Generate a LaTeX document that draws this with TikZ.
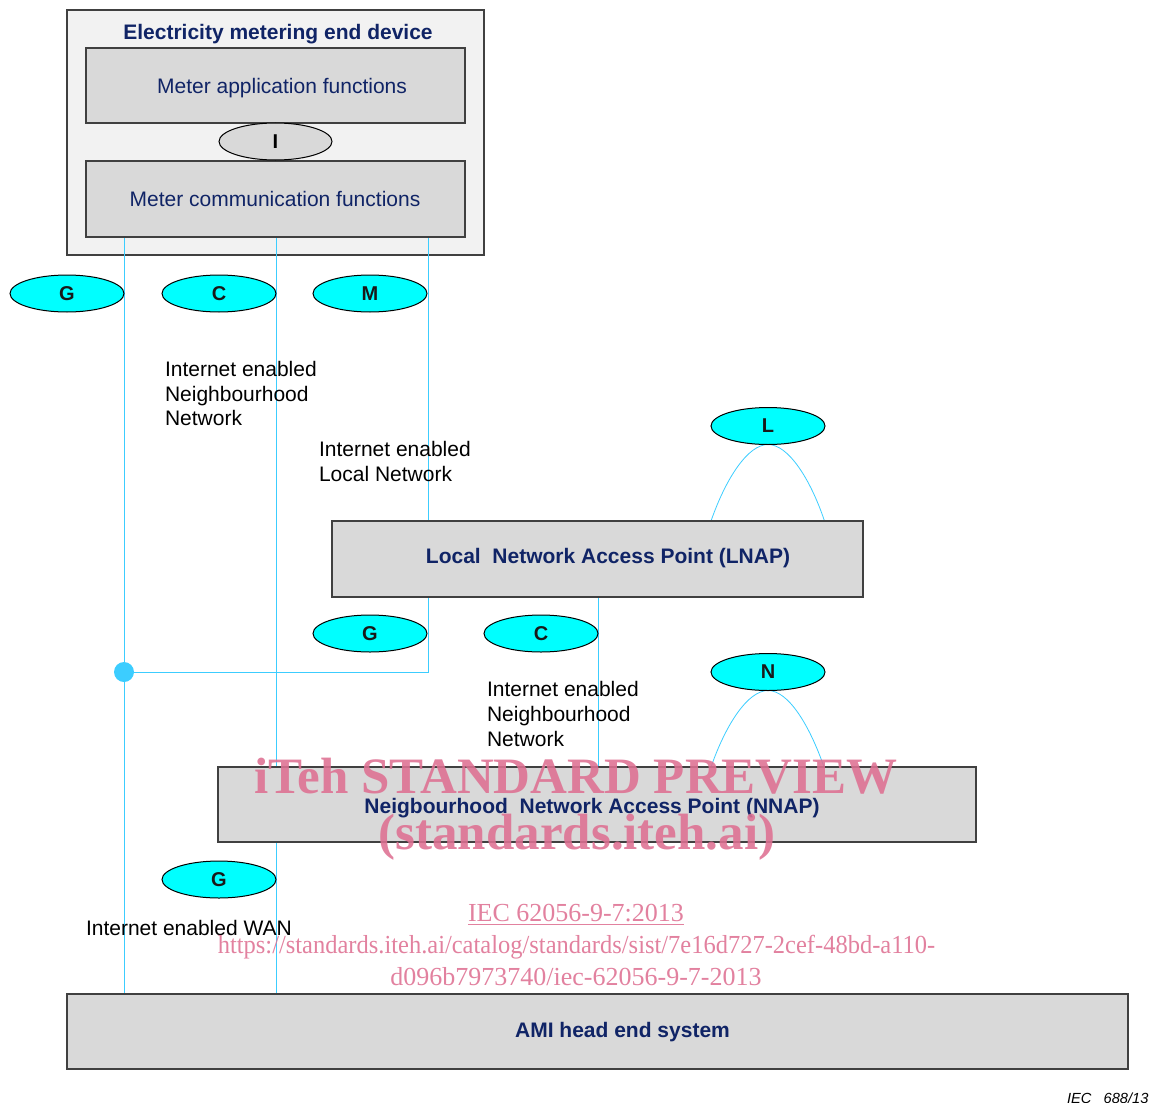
\documentclass[tikz,border=0pt]{standalone}
\usepackage{fontspec}
\setmainfont{Liberation Sans}
\newfontfamily\wmfont{Liberation Serif}
\usetikzlibrary{fit,shapes.geometric}

\definecolor{navy}{RGB}{16,36,102}
\definecolor{wirecol}{RGB}{60,205,255}
\definecolor{ifacefill}{RGB}{0,255,255}
\definecolor{boxgray}{RGB}{217,217,217}
\definecolor{panelgray}{RGB}{242,242,242}
\definecolor{edgegray}{RGB}{64,64,64}
\definecolor{wmpink}{RGB}{222,112,146}

\pgfdeclarelayer{bg}
\pgfsetlayers{bg,main}

\begin{document}
\begin{tikzpicture}[x=0.75pt,y=-0.75pt,
  every node/.style={inner sep=0pt,outer sep=0pt},
  plain/.style={font=\fontsize{15.75pt}{18.4pt}\selectfont,text=black},
  title/.style={font=\bfseries\fontsize{15.75pt}{18.4pt}\selectfont,text=navy},
  subtitle/.style={font=\fontsize{15.75pt}{18.4pt}\selectfont,text=navy},
  box/.style={draw=edgegray,line width=1pt,fill=boxgray,inner sep=0pt},
  panelbox/.style={draw=edgegray,line width=1pt,fill=panelgray,inner sep=0pt},
  iface/.style={ellipse,draw=black,line width=0.75pt,fill=ifacefill,
    minimum width=114*0.75pt,minimum height=37*0.75pt,
    font=\bfseries\fontsize{15pt}{18pt}\selectfont,text=black!90},
  wire/.style={draw=wirecol,line width=0.6pt},
  wmbig/.style={font=\wmfont\bfseries\fontsize{38.25pt}{40pt}\selectfont,text=wmpink,text opacity=0.88},
  wmsmall/.style={font=\wmfont\fontsize{19.5pt}{22pt}\selectfont,text=wmpink,text opacity=0.88}]

\useasboundingbox (0,0) rectangle (1155,1102);

% corner points of the boxes
\coordinate (devA) at (67,10);   \coordinate (devB) at (484,255);
\coordinate (appA) at (86,48);   \coordinate (appB) at (465,123);
\coordinate (comA) at (86,161);  \coordinate (comB) at (465,237);
\coordinate (lnA) at (332,521);  \coordinate (lnB) at (863,597);
\coordinate (nnA) at (218,767);  \coordinate (nnB) at (976,842);
\coordinate (amA) at (67,994);   \coordinate (amB) at (1128,1069);

% x positions of the vertical links
\coordinate (xg) at (124,0);
\coordinate (xc) at (276,0);
\coordinate (xm) at (428,0);
\coordinate (xn) at (598,0);

\begin{pgfonlayer}{bg}
  \node[panelbox,fit=(devA)(devB)] (device) {};
\end{pgfonlayer}

% end device contents
\node[title,anchor=base] (devtitle) at (278,39.6) {Electricity metering end device};
\node[box,fit=(appA)(appB)] (app) {};
\node[subtitle,anchor=base] (apptext) at (282,93.6) {Meter application functions};
\node[box,fit=(comA)(comB)] (comm) {};
\node[subtitle,anchor=base] (commtext) at (275,206.6) {Meter communication functions};
\node[ellipse,draw=black,line width=0.75pt,fill=boxgray,
      minimum width=113*0.75pt,minimum height=37*0.75pt,
      font=\bfseries\fontsize{15pt}{18pt}\selectfont] (ifI) at (275.5,141.5) {I};

% access points and head end
\node[box,fit=(lnA)(lnB)] (lnap) {};
\node[title,anchor=base] (lnaptext) at (608,563.6) {Local\ \ Network Access Point (LNAP)};
\node[box,fit=(nnA)(nnB)] (nnap) {};
\node[title,anchor=base] (nnaptext) at (592,813.6) {Neigbourhood\ \ Network Access Point (NNAP)};
\node[box,fit=(amA)(amB)] (ami) {};
\node[title,anchor=base] (amitext) at (622.5,1037.6) {AMI head end system};

% interface ellipses
\node[iface] (g1) at (67,293.5) {G};
\node[iface] (c1) at (219,293.5) {C};
\node[iface] (m1) at (370,293.5) {M};
\node[iface] (lif) at (768,426) {L};
\node[iface] (g2) at (370,633.5) {G};
\node[iface] (c2) at (541,633.5) {C};
\node[iface] (nif) at (768,672) {N};
\node[iface] (g3) at (219,879.5) {G};

% junction dot
\node[circle,fill=wirecol,minimum size=20*0.75pt] (dot) at (124,672) {};

% feet of the local loops
\coordinate (lfl) at (711,521);  \coordinate (lfr) at (824.5,521);
\coordinate (nfl) at (711,767);  \coordinate (nfr) at (824,767);

% network labels (anchored on the baseline of their last line)
\node[plain,anchor=base west,align=left] (lbl1) at (165,425.7)
  {Internet enabled\\Neighbourhood\\Network};
\node[plain,anchor=base west,align=left] (lbl2) at (319,481.2)
  {Internet enabled\\Local Network};
\node[plain,anchor=base west,align=left] (lbl3) at (487,746)
  {Internet enabled\\Neighbourhood\\Network};
\node[plain,anchor=base west] (lbl4) at (86,935.5) {Internet enabled WAN};

\begin{pgfonlayer}{bg}
  \draw[wire] (comm.south -| xg) -- (ami.north -| xg);
  \draw[wire] (comm.south -| xc) -- (ami.north -| xc);
  \draw[wire] (comm.south -| xm) -- (lnap.north -| xm);
  \draw[wire] (lnap.south -| xm) |- (dot);
  \draw[wire] (lnap.south -| xn) -- (nnap.north -| xn);
  \draw[wire] (lfl) .. controls (726,478) and (748,444.5) .. (lif.south)
                    .. controls (788,444.5) and (810,478) .. (lfr);
  \draw[wire] (nfl) .. controls (726,724) and (748,690.5) .. (nif.south)
                    .. controls (788,690.5) and (809,724) .. (nfr);
\end{pgfonlayer}

% figure reference
\node[font=\itshape\fontsize{11pt}{13pt}\selectfont,anchor=base west] (figref) at (1067,1103) {IEC\ \ \ 688/13};

% preview overlay
\node[wmbig,anchor=base] (wm1) at (576,793) {iTeh STANDARD PREVIEW};
\node[wmbig,anchor=base] (wm2) at (577,849) {(standards.iteh.ai)};
\node[wmsmall,anchor=base] (wm3) at (576,921.7) {\underline{IEC 62056-9-7:2013}};
\node[wmsmall,anchor=base] (wm4) at (576.5,953) {\scalebox{0.942}[1]{https://standards.iteh.ai/catalog/standards/sist/7e16d727-2cef-48bd-a110-}};
\node[wmsmall,anchor=base] (wm5) at (576,985) {d096b7973740/iec-62056-9-7-2013};
\end{tikzpicture}
\end{document}
